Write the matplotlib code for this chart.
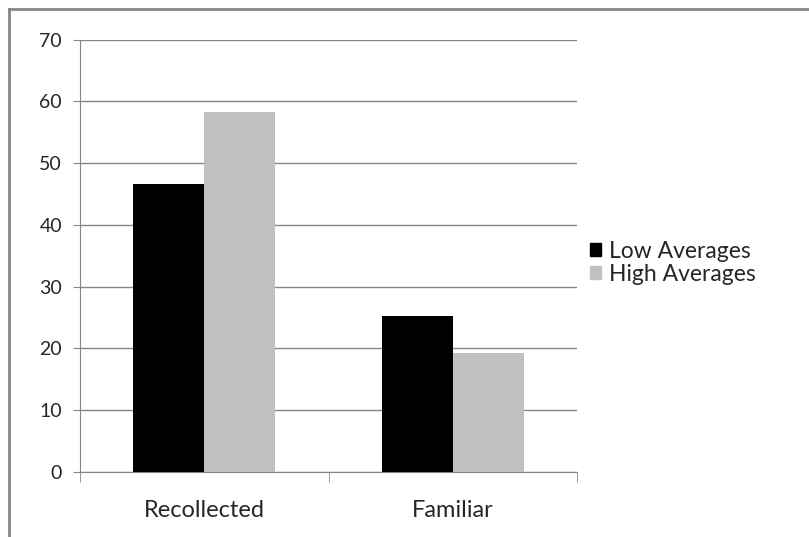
import matplotlib.pyplot as plt
from matplotlib.patches import Patch
from matplotlib.lines import Line2D
import numpy as np

categories = ['Recollected', 'Familiar']
low_averages = [46.6, 25.3]
high_averages = [58.3, 19.3]
series_names = ['Low Averages', 'High Averages']
yticks = [0, 10, 20, 30, 40, 50, 60, 70]

plt.rcParams['font.family'] = ['Lato', 'DejaVu Sans']
grid_col = '#868686'
text_col = '#262626'

fig = plt.figure(figsize=(8.09, 5.37), dpi=100)
ax = fig.add_axes([80 / 809, 65 / 537, 497 / 809, 432.5 / 537])

x = np.arange(len(categories))
w = 1 / 3.5
ax.bar(x - w / 2, low_averages, w, color='black', zorder=3)
ax.bar(x + w / 2, high_averages, w, color='#C0C0C0', zorder=3)

ax.set_xlim(-0.5, 1.5)
ax.set_ylim(0, 70)
ax.set_yticks(yticks)
ax.yaxis.grid(True, color=grid_col, linewidth=1)
ax.set_axisbelow(True)
ax.set_xticks(x)
ax.set_xticklabels(categories)
ax.set_xticks([-0.5, 0.5, 1.5], minor=True)
ax.tick_params(axis='x', which='major', length=0, pad=20, labelsize=17, colors=text_col)
ax.tick_params(axis='x', which='minor', length=7, color=grid_col)
ax.tick_params(axis='y', length=5, color=grid_col, labelsize=14, pad=8, labelcolor=text_col)
for s in ['top', 'right']:
    ax.spines[s].set_visible(False)
for s in ['left', 'bottom']:
    ax.spines[s].set_color(grid_col)

handles = [Patch(color='black'), Patch(color='#C0C0C0')]
ax.legend(handles, series_names, loc='center left', bbox_to_anchor=(0.984, 0.484),
          frameon=False, fontsize=16.5, handlelength=0.5, handleheight=0.5,
          handletextpad=0.35, labelspacing=0.1, labelcolor=text_col)

# chart border (cropped)
fig.add_artist(Line2D([9 / 809, 1], [1 - 9 / 537, 1 - 9 / 537], color=grid_col, lw=2))
fig.add_artist(Line2D([9 / 809, 9 / 809], [0, 1 - 9 / 537], color=grid_col, lw=2))

fig.savefig('out.png', dpi=100)
